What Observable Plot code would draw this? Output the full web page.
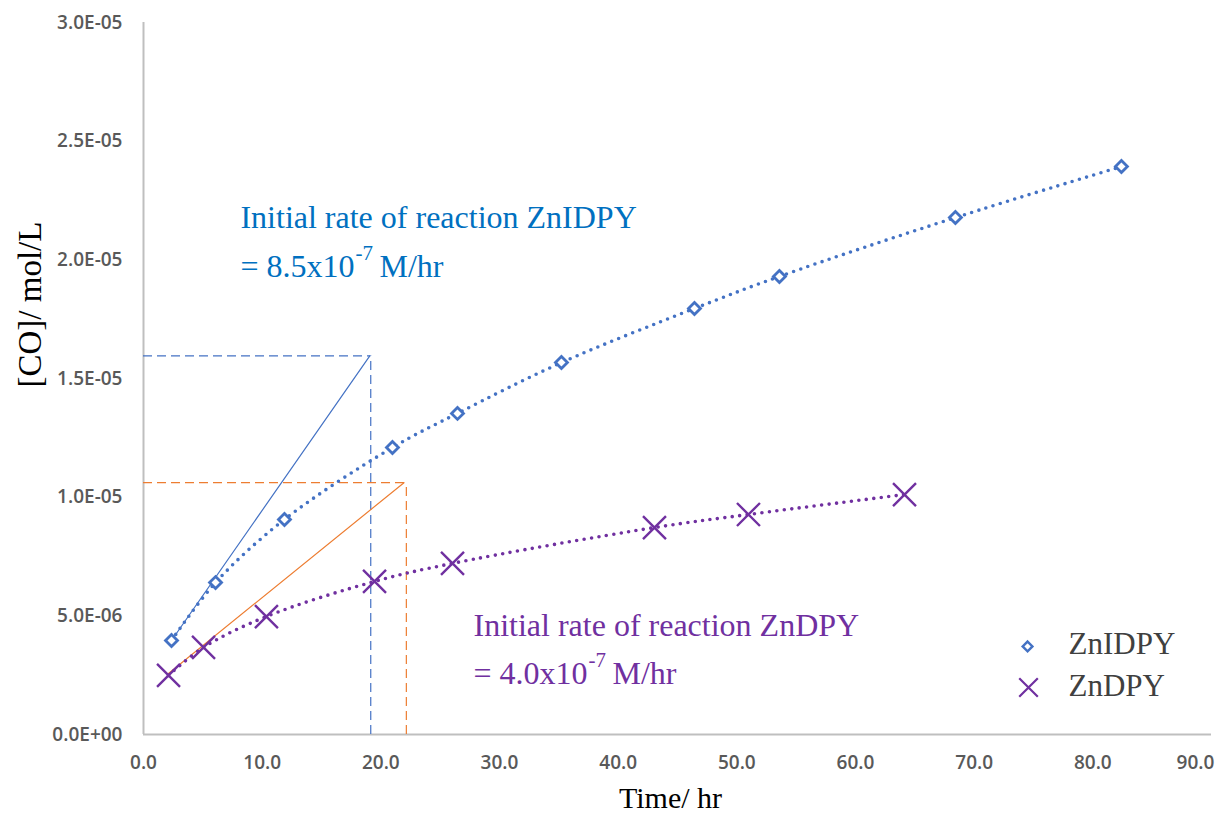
<!DOCTYPE html>
<html>
<head>
<meta charset="utf-8">
<script src="https://cdn.jsdelivr.net/npm/d3@7"></script>
<script src="https://cdn.jsdelivr.net/npm/@observablehq/plot@0.6"></script>
<style>
  html, body { margin: 0; padding: 0; background: #fff; }
  #chart { width: 1220px; height: 813px; }
</style>
</head>
<body>
<div id="chart"></div>
<script>
// ---- data ----
const idpyTime = [2.36, 6.07, 11.88, 20.98, 26.46, 35.22, 46.43, 53.59, 68.42, 82.41];
const idpyConc = [3.96e-6, 6.40e-6, 9.06e-6, 12.09e-6, 13.53e-6, 15.67e-6, 17.95e-6, 19.30e-6, 21.78e-6, 23.93e-6];
const dpyTime = [2.11, 5.06, 10.36, 19.47, 26.04, 43.06, 50.98, 64.13];
const dpyConc = [2.49e-6, 3.67e-6, 4.97e-6, 6.45e-6, 7.21e-6, 8.72e-6, 9.27e-6, 10.11e-6];

// initial-rate tangent lines (start / end points) and guide values
const idpyTangentT = [2.36, 19.07];
const idpyTangentC = [3.96e-6, 15.95e-6];
const dpyTangentT = [2.08, 21.95];
const dpyTangentC = [2.56e-6, 10.61e-6];
const idpyGuideT = 19.15, idpyGuideC = 15.95e-6;
const dpyGuideT = 22.15, dpyGuideC = 10.61e-6;

const xTicks = [0, 10, 20, 30, 40, 50, 60, 70, 80, 90];
const xTickLabels = ["0.0", "10.0", "20.0", "30.0", "40.0", "50.0", "60.0", "70.0", "80.0", "90.0"];
const yTicks = [0, 0.5e-5, 1e-5, 1.5e-5, 2e-5, 2.5e-5, 3e-5];
const yTickLabels = ["0.0E+00", "5.0E-06", "1.0E-05", "1.5E-05", "2.0E-05", "2.5E-05", "3.0E-05"];

const seriesNames = ["ZnIDPY", "ZnDPY"];
const idpyNote = ["Initial rate of reaction ZnIDPY", "= 8.5x10", "-7", "M/hr"];
const dpyNote = ["Initial rate of reaction ZnDPY", "= 4.0x10", "-7", "M/hr"];
const xLabel = "Time/ hr";
const yLabel = "[CO]/ mol/L";

// ---- tables ----
const idpy = idpyTime.map((t, i) => ({t, c: idpyConc[i]}));
const dpy = dpyTime.map((t, i) => ({t, c: dpyConc[i]}));
const idpyTan = idpyTangentT.map((t, i) => ({t, c: idpyTangentC[i]}));
const dpyTan = dpyTangentT.map((t, i) => ({t, c: dpyTangentC[i]}));

const BLUE = "#4472C4", PURPLE = "#7030A0", ORANGE = "#ED7D31";
const TXTBLUE = "#0070C0";
const SERIF = "'Liberation Serif', 'Times New Roman', serif";
const SANS = "'Open Sans', sans-serif";
const fmtX = d => xTickLabels[xTicks.indexOf(d)];
const fmtY = d => yTickLabels[yTicks.indexOf(d)];
const tickStyle = {tickSize: 0, label: null, fontSize: 19, fontFamily: SANS, fontWeight: 600, fill: "#595959"};

const chart = Plot.plot({
  width: 1220,
  height: 813,
  marginLeft: 143,
  marginRight: 9,
  marginTop: 22,
  marginBottom: 79,
  x: {domain: [0, 90]},
  y: {domain: [0, 3e-5]},
  style: {fontFamily: SANS, fontSize: "19px", color: "#595959", background: "#fff"},
  marks: [
    Plot.axisX({...tickStyle, ticks: xTicks.slice(0, -1), tickFormat: fmtX, tickPadding: 21}),
    Plot.axisX({...tickStyle, ticks: xTicks.slice(-1), tickFormat: fmtX, tickPadding: 21, dx: -16}),
    Plot.axisY({...tickStyle, ticks: yTicks, tickFormat: fmtY, tickPadding: 21}),
    Plot.ruleX([0], {stroke: "#BFBFBF", strokeWidth: 2}),
    Plot.ruleY([0], {stroke: "#BFBFBF", strokeWidth: 2}),

    // dashed guides
    Plot.ruleY([idpyGuideC], {x1: 0, x2: idpyGuideT, stroke: BLUE, strokeWidth: 1.2, strokeDasharray: "9 5"}),
    Plot.ruleX([idpyGuideT], {y1: 0, y2: idpyGuideC, stroke: BLUE, strokeWidth: 1.2, strokeDasharray: "9 5"}),
    Plot.ruleY([dpyGuideC], {x1: 0, x2: dpyGuideT, stroke: ORANGE, strokeWidth: 1.2, strokeDasharray: "9 5"}),
    Plot.ruleX([dpyGuideT], {y1: 0, y2: dpyGuideC, stroke: ORANGE, strokeWidth: 1.2, strokeDasharray: "9 5"}),

    // tangents
    Plot.line(idpyTan, {x: "t", y: "c", stroke: BLUE, strokeWidth: 1.2}),
    Plot.line(dpyTan, {x: "t", y: "c", stroke: ORANGE, strokeWidth: 1.2}),

    // dotted trend lines
    Plot.line(idpy, {x: "t", y: "c", stroke: BLUE, strokeWidth: 3.6, strokeDasharray: "0 7.5", strokeLinecap: "round", curve: "catmull-rom"}),
    Plot.line(dpy, {x: "t", y: "c", stroke: PURPLE, strokeWidth: 3.6, strokeDasharray: "0 7.5", strokeLinecap: "round", curve: "catmull-rom"}),

    // markers
    Plot.dot(idpy, {x: "t", y: "c", symbol: "diamond2", r: 5.4, stroke: BLUE, strokeWidth: 2.8, fill: "white"}),
    Plot.dot(dpy, {x: "t", y: "c", symbol: "times", r: 10.5, stroke: PURPLE, strokeWidth: 2.4}),

    // annotations
    Plot.text([idpyNote[0]], {x: 8.17, y: 21.78e-6, text: d => d, textAnchor: "start", fill: TXTBLUE, fontFamily: SERIF, fontSize: 32}),
    Plot.text([idpyNote[1]], {x: 8.17, y: 19.72e-6, text: d => d, textAnchor: "start", fill: TXTBLUE, fontFamily: SERIF, fontSize: 32}),
    Plot.text([idpyNote[2]], {x: 8.17, y: 20.27e-6, dx: 115, text: d => d, textAnchor: "start", fill: TXTBLUE, fontFamily: SERIF, fontSize: 21}),
    Plot.text([idpyNote[3]], {x: 8.17, y: 19.72e-6, dx: 139, text: d => d, textAnchor: "start", fill: TXTBLUE, fontFamily: SERIF, fontSize: 32}),

    Plot.text([dpyNote[0]], {x: 27.81, y: 4.59e-6, text: d => d, textAnchor: "start", fill: PURPLE, fontFamily: SERIF, fontSize: 32}),
    Plot.text([dpyNote[1]], {x: 27.81, y: 2.57e-6, text: d => d, textAnchor: "start", fill: PURPLE, fontFamily: SERIF, fontSize: 32}),
    Plot.text([dpyNote[2]], {x: 27.81, y: 3.12e-6, dx: 115, text: d => d, textAnchor: "start", fill: PURPLE, fontFamily: SERIF, fontSize: 21}),
    Plot.text([dpyNote[3]], {x: 27.81, y: 2.57e-6, dx: 139, text: d => d, textAnchor: "start", fill: PURPLE, fontFamily: SERIF, fontSize: 32}),

    // legend
    Plot.dot([seriesNames[0]], {x: 74.5, y: 3.71e-6, symbol: "diamond2", r: 4.4, stroke: BLUE, strokeWidth: 2.4, fill: "white"}),
    Plot.dot([seriesNames[1]], {x: 74.58, y: 1.98e-6, symbol: "times", r: 8.5, stroke: PURPLE, strokeWidth: 2.2}),
    Plot.text([seriesNames[0]], {x: 77.95, y: 3.83e-6, text: d => d, textAnchor: "start", fill: "#404040", fontFamily: SERIF, fontSize: 31}),
    Plot.text([seriesNames[1]], {x: 77.95, y: 2.06e-6, text: d => d, textAnchor: "start", fill: "#404040", fontFamily: SERIF, fontSize: 31}),

    // axis titles
    Plot.text([xLabel], {frameAnchor: "bottom", dx: -7, dy: 73, text: d => d, fill: "#000", fontFamily: SERIF, fontSize: 30}),
    Plot.text([yLabel], {frameAnchor: "left", dx: -113, dy: 9, rotate: -90, text: d => d, fill: "#000", fontFamily: SERIF, fontSize: 33})
  ]
});
document.getElementById("chart").appendChild(chart);
</script>
</body>
</html>
